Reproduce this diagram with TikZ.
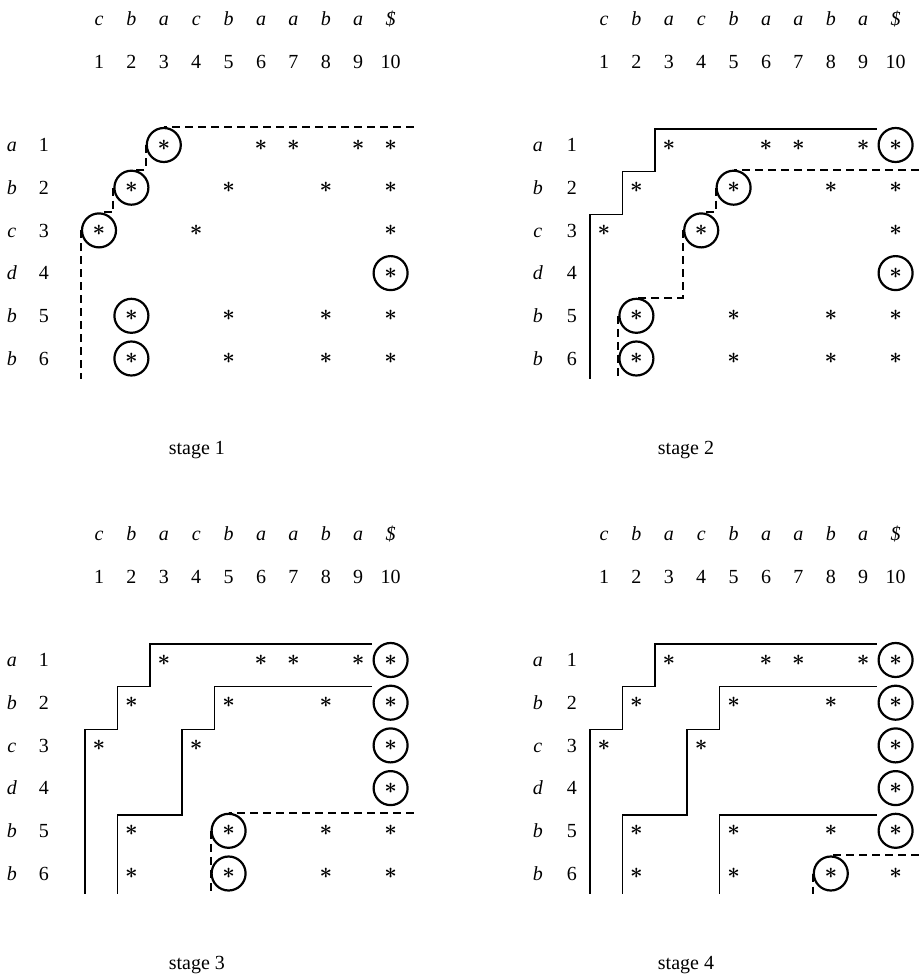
\documentclass[tikz,border=0pt]{standalone}
\usepackage{amsmath}
\usepackage{fontspec}
\setmainfont{Liberation Serif}
\usepackage{tikz}

\begin{document}
\begin{tikzpicture}[
  x=0.5pt, y=-0.5pt,
  font=\fontsize{10}{12}\selectfont,
  lab/.style={inner sep=0pt, text height=6.8pt, text depth=0pt},
  hit/.style={inner sep=0pt, font=\fontsize{11}{12}\selectfont},
  ring/.style={circle, draw, line width=1.1pt, minimum size=17pt, inner sep=0pt},
  wall/.style={line width=0.75pt},
  front/.style={line width=1pt, dash pattern=on 4pt off 2.5pt}
]
\useasboundingbox (0,0) rectangle (919,974);

% the four tables: header, row labels, matches
\foreach \st/\px/\py/\lx/\nx/\sx in {1/66.6/102.3/-1.69/-0.70/4.02, 2/571.6/102.3/-1.04/0.01/3.53,
                                     3/66.6/617.3/-1.69/-0.70/4.02, 4/571.6/617.3/-1.04/0.01/3.53} {
  \begin{scope}[shift={(\px,\py)}, x=16.2pt, y=-21.35pt]
    \foreach \ch [count=\c] in {c,b,a,c,b,a,a,b,a,\$} {
      \node[lab] (h\st-\c) at (\c,-1.95) {\textit{\ch}};
      \node[lab] (n\st-\c) at (\c,-0.94) {\c};
    }
    \foreach \ch [count=\r] in {a,b,c,d,b,b} {
      \node[lab] (rl\st-\r) at (\lx,\r) {\textit{\ch}};
      \node[lab] (rn\st-\r) at (\nx,\r) {\r};
    }
    \foreach \r/\cols in {1/{3,6,7,9,10}, 2/{2,5,8,10}, 3/{1,4,10}, 4/{10}, 5/{2,5,8,10}, 6/{2,5,8,10}}
      \foreach \c in \cols {
        \node[hit] (s\st-\r-\c) at (\c,\r) {$\boldsymbol{\ast}$};
        \coordinate (k\st-\r-\c) at ([shift={(-7pt,8pt)}]s\st-\r-\c.center);
      }
    \coordinate (edge\st) at (10.72,0);
    \coordinate (foot\st) at (0,6.47);
    \node[lab] (cap\st) at (\sx,8.1) {stage \st};
  \end{scope}
}

% circled matches
\foreach \n in {1-1-3, 1-2-2, 1-3-1, 1-4-10, 1-5-2, 1-6-2,
                2-1-10, 2-2-5, 2-3-4, 2-4-10, 2-5-2, 2-6-2,
                3-1-10, 3-2-10, 3-3-10, 3-4-10, 3-5-5, 3-6-5,
                4-1-10, 4-2-10, 4-3-10, 4-4-10, 4-5-10, 4-6-8}
  \node[ring] (o\n) at (s\n) {};

% stage 1
\draw[front] (edge1 |- o1-1-3.north) -- (o1-1-3.north)
  (o1-1-3.west) |- (o1-2-2.north) (o1-2-2.west) |- (o1-3-1.north)
  (o1-3-1.west) -- (o1-3-1.west |- foot1);

% stage 2
\draw[wall] ([xshift=-2.5pt]k2-1-10) -- (k2-1-3) |- (k2-2-2) |- (k2-3-1) -- (k2-3-1 |- foot2);
\draw[front] (edge2 |- o2-2-5.north) -- (o2-2-5.north)
  (o2-2-5.west) |- (o2-3-4.north) (o2-3-4.west) |- (o2-5-2.north)
  (o2-5-2.west) -- (o2-5-2.west |- foot2);

% stage 3
\draw[wall] ([xshift=-2.5pt]k3-1-10) -- (k3-1-3) |- (k3-2-2) |- (k3-3-1) -- (k3-3-1 |- foot3);
\draw[wall] ([xshift=-2.5pt]k3-2-10) -- (k3-2-5) |- (k3-3-4) |- (k3-5-2) -- (k3-5-2 |- foot3);
\draw[front] (edge3 |- o3-5-5.north) -- (o3-5-5.north)
  (o3-5-5.west) -- (o3-5-5.west |- foot3);

% stage 4
\draw[wall] ([xshift=-2.5pt]k4-1-10) -- (k4-1-3) |- (k4-2-2) |- (k4-3-1) -- (k4-3-1 |- foot4);
\draw[wall] ([xshift=-2.5pt]k4-2-10) -- (k4-2-5) |- (k4-3-4) |- (k4-5-2) -- (k4-5-2 |- foot4);
\draw[wall] ([xshift=-2.5pt]k4-5-10) -- (k4-5-5) -- (k4-5-5 |- foot4);
\draw[front] (edge4 |- o4-6-8.north) -- (o4-6-8.north)
  (o4-6-8.west) -- (o4-6-8.west |- foot4);
\end{tikzpicture}
\end{document}
